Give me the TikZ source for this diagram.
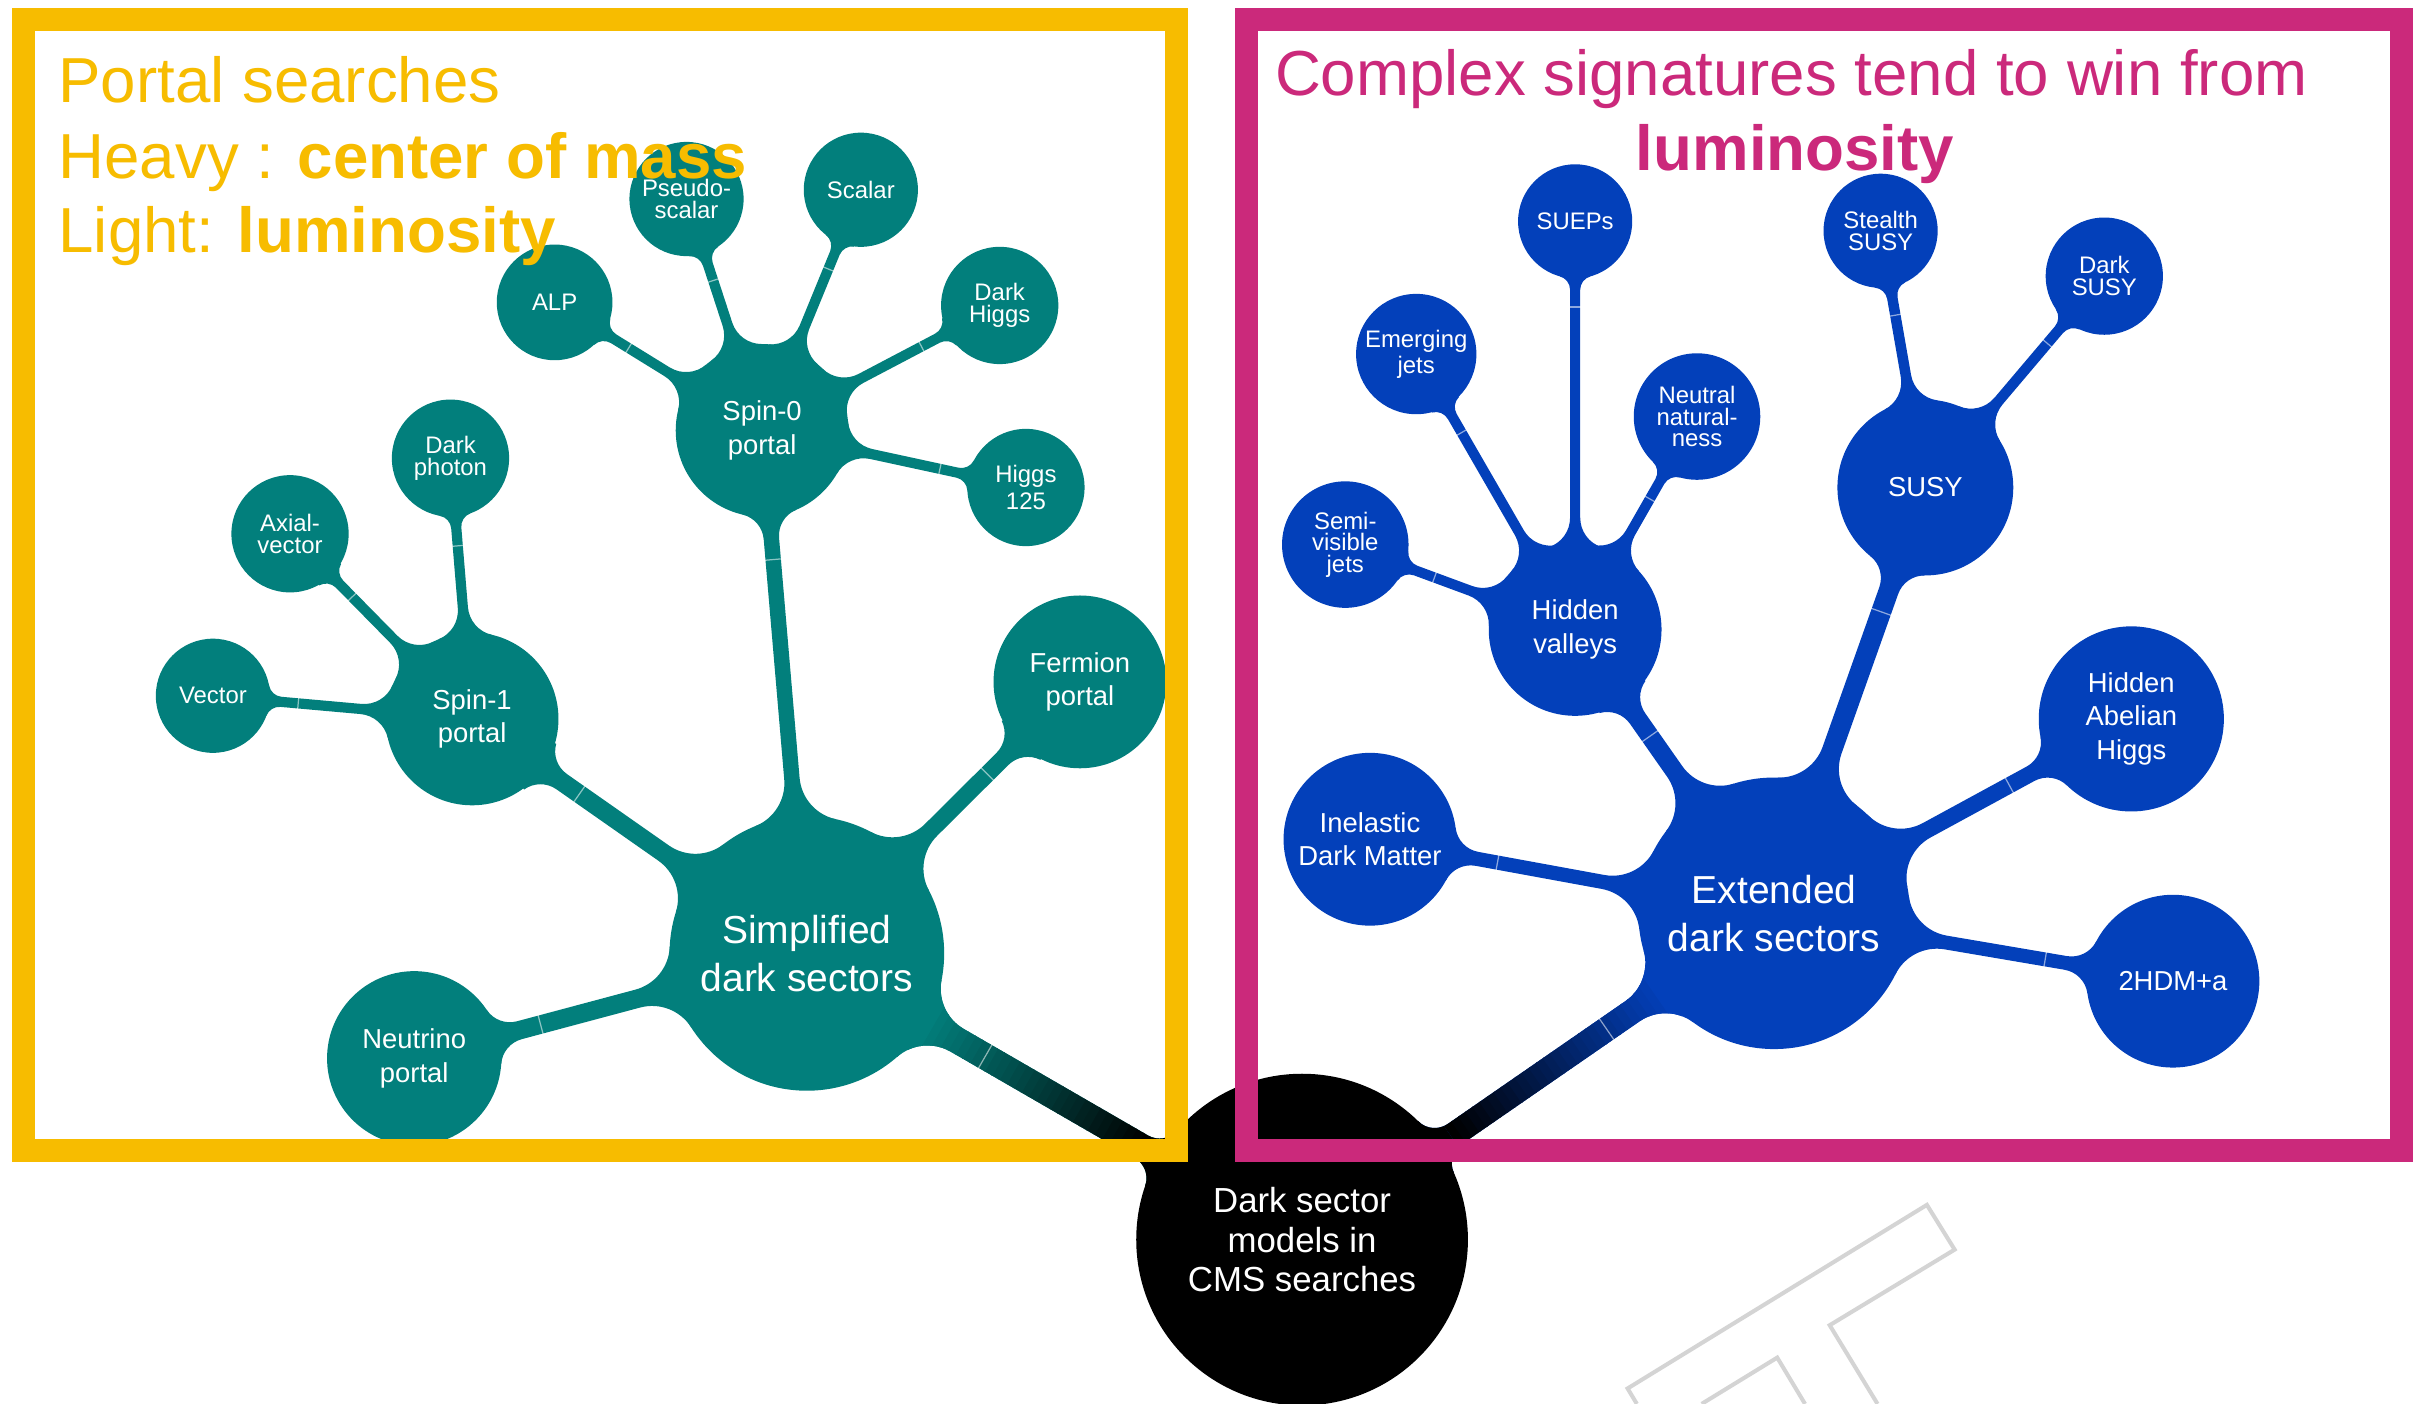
\documentclass[tikz,border=0pt]{standalone}
\usepackage{fontspec}
\setmainfont{Liberation Sans}
\usetikzlibrary{calc,backgrounds}

\definecolor{portalyellow}{HTML}{F7BC00}
\definecolor{complexpink}{HTML}{CB297B}
\definecolor{simpteal}{HTML}{027F7C}
\definecolor{extblue}{HTML}{0340BA}

\newcommand{\pxpt}{0.438941}
\newcommand{\tightleaf}{\fontsize{6.8}{6.15}\selectfont\lineskiplimit=-5pt\relax}
\tikzset{
  rad/.style={minimum size=2*#1*0.015427cm},
  bubble/.style={circle, inner sep=0pt, text=white, align=center},
  rootbub/.style={bubble, fill=black, font=\fontsize{9.9}{11.2}\selectfont},
  mainbub/.style={bubble, font=\fontsize{11.1}{13.6}\selectfont},
  midbub/.style={bubble, font=\fontsize{7.8}{9.6}\selectfont},
  leafbub/.style={bubble, font=\tightleaf},
  looseleaf/.style={bubble, font=\fontsize{6.8}{7.46}\selectfont},
  boxframe/.style={draw=#1, line width=6.58pt},
  heading/.style={inner sep=0pt, font=\fontsize{18.1}{21}\selectfont},
  tickmk/.style={white, opacity=0.55, line width=0.35pt},
  wmark/.style={draw=black!17, line width=1.15pt}
}

% geometry of one tapered branch, parent -> child, in the frame of the parent
\newcommand{\branchsetup}[7]{%
  \path let \p1=($(#2)-(#1)$) in \pgfextra{%
    \pgfmathsetmacro\brAng{atan2(\y1,\x1)}\global\let\brAng\brAng
    \pgfmathsetmacro\brLen{veclen(\x1,\y1)/\pxpt}\global\let\brLen\brLen};
  \def\brR{#3}\def\brr{#4}\def\brh{#5}\def\brp{#6}\def\brc{#7}%
  \pgfmathsetmacro\brxf{sqrt((\brR+\brp)^2-(\brh+\brp)^2)}%
  \pgfmathsetmacro\brtf{atan2(\brh+\brp,\brxf)}%
  \pgfmathsetmacro\brxc{sqrt((\brr+\brc)^2-(\brh+\brc)^2)}%
  \pgfmathsetmacro\brtc{atan2(\brh+\brc,\brxc)}%
  \pgfmathsetmacro\brtx{\brxf*\brR/(\brR+\brp)}%
  \pgfmathsetmacro\brty{(\brh+\brp)*\brR/(\brR+\brp)}%
  \pgfmathsetmacro\brnx{\brLen-\brxc}%
  \pgfmathsetmacro\brux{\brLen-\brxc*\brr/(\brr+\brc)}%
  \pgfmathsetmacro\bruy{(\brh+\brc)*\brr/(\brr+\brc)}%
  \pgfmathsetmacro\brsA{180+\brtf}%
  \pgfmathsetmacro\brsB{360-\brtc}%
  \pgfmathsetmacro\brsD{180-\brtf}%
  \pgfmathsetmacro\brtk{\brLen-1.5*\brr}%
}
\newcommand{\branchshape}{(0,0) -- (\brtx,\brty)
  arc[start angle=\brsA, end angle=270, radius=\brp] -- (\brnx,\brh)
  arc[start angle=270, end angle=\brsB, radius=\brc] -- (\brLen,0) -- (\brux,-\bruy)
  arc[start angle=\brtc, end angle=90, radius=\brc] -- (\brxf,-\brh)
  arc[start angle=90, end angle=\brsD, radius=\brp] -- cycle}

\newcommand{\branch}[8]{%
  \begin{pgfonlayer}{background}
    \branchsetup{#1}{#2}{#3}{#4}{#5}{#6}{#7}
    \begin{scope}[shift={(#1)}, rotate=\brAng]
      \fill[#8] \branchshape;
      \draw[tickmk] (\brtk,-\brh-0.6) -- (\brtk,\brh+0.6);
    \end{scope}
  \end{pgfonlayer}}

% same, fading from black at the parent to the colour of the child
\newcommand{\rootbranch}[8]{%
  \begin{pgfonlayer}{background}
    \branchsetup{#1}{#2}{#3}{#4}{#5}{#6}{#7}
    \begin{scope}[shift={(#1)}, rotate=\brAng]
      \begin{scope}
        \clip \branchshape;
        \fill[#8] (0,-150) rectangle (\brLen+100,150);
        \pgfmathsetmacro\gA{\brR+10}\pgfmathsetmacro\gB{\brLen-\brr}
        \fill[black] (-150,-150) rectangle (\gA,150);
        \foreach \i in {0,...,29}{
          \pgfmathsetmacro\stA{\gA+(\gB-\gA)*\i/30}
          \pgfmathsetmacro\stB{\gA+(\gB-\gA)*(\i+1)/30+1}
          \pgfmathtruncatemacro\mix{100*\i/29}
          \fill[#8!\mix!black] (\stA,-150) rectangle (\stB,150);
        }
      \end{scope}
      \draw[tickmk] (\brtk,-\brh-0.6) -- (\brtk,\brh+0.6);
    \end{scope}
  \end{pgfonlayer}}

\begin{document}
\begin{tikzpicture}[x=0.015427cm, y=-0.015427cm]
\useasboundingbox (0,0) rectangle (1568,910);
\begin{pgfonlayer}{background}
  \fill[white] (0,0) rectangle (1568,910);
\end{pgfonlayer}

% root
\node[rootbub, rad=107.5] (dsm) at (844,803.5) {Dark sector\\models in\\CMS searches};

% simplified dark sectors
\node[mainbub, fill=simpteal, rad=89] (simp) at (523,618) {Simplified\\dark sectors};
\node[midbub, fill=simpteal, rad=56] (spin0) at (494,279) {Spin-0\\portal};
\node[midbub, fill=simpteal, rad=56] (spin1) at (306,466) {Spin-1\\portal};
\node[midbub, fill=simpteal, rad=56] (ferm) at (700,442) {Fermion\\portal};
\node[midbub, fill=simpteal, rad=56.5] (neut) at (268.5,686) {Neutrino\\portal};
\node[leafbub, fill=simpteal, rad=37] (vec) at (138,451) {Vector};
\node[leafbub, fill=simpteal, rad=38] (axial) at (188,346) {Axial-\\vector};
\node[leafbub, fill=simpteal, rad=38] (dphoton) at (292,297) {Dark\\photon};
\node[leafbub, fill=simpteal, rad=37.5] (alp) at (359.5,196) {ALP};
\node[leafbub, fill=simpteal, rad=37] (pseudo) at (445,129) {Pseudo-\\scalar};
\node[leafbub, fill=simpteal, rad=37] (scalar) at (558,123) {Scalar};
\node[leafbub, fill=simpteal, rad=38] (dhiggs) at (648,198) {Dark\\Higgs};
\node[looseleaf, fill=simpteal, rad=38] (h125) at (665,316) {Higgs\\125};

% extended dark sectors
\node[mainbub, fill=extblue, rad=88] (ext) at (1150,592) {Extended\\dark sectors};
\node[midbub, fill=extblue, rad=56] (hv) at (1021,408) {Hidden\\valleys};
\node[midbub, fill=extblue, rad=57] (susy) at (1248,316) {SUSY};
\node[midbub, fill=extblue, rad=56] (idm) at (888,544) {Inelastic\\Dark Matter};
\node[midbub, fill=extblue, rad=60] (hah) at (1381.5,466) {Hidden\\Abelian\\Higgs};
\node[midbub, fill=extblue, rad=56] (thdma) at (1408.5,636) {2HDM+a};
\node[leafbub, fill=extblue, rad=41] (svj) at (872,353) {Semi-\\visible\\jets};
\node[looseleaf, fill=extblue, rad=39] (emj) at (918,229.5) {Emerging\\jets};
\node[leafbub, fill=extblue, rad=37] (sueps) at (1021,143.5) {SUEPs};
\node[leafbub, fill=extblue, rad=41] (nnat) at (1100,270) {Neutral\\natural-\\ness};
\node[leafbub, fill=extblue, rad=37] (stealth) at (1219,149.6) {Stealth\\SUSY};
\node[leafbub, fill=extblue, rad=38] (dsusy) at (1364,179) {Dark\\SUSY};

% branches
\rootbranch{dsm}{simp}{107.5}{89}{8.5}{15}{30}{simpteal}
\rootbranch{dsm}{ext}{107.5}{88}{8}{15}{30}{extblue}
\foreach \kid/\rr/\hw in {spin0/56/5, spin1/56/6, ferm/56/5.5, neut/56.5/6}
  {\branch{simp}{\kid}{89}{\rr}{\hw}{30}{18}{simpteal}}
\foreach \kid/\rr/\hw in {hv/56/6, susy/57/6.5, idm/56/4.6, hah/60/5.3, thdma/56/4.5}
  {\branch{ext}{\kid}{88}{\rr}{\hw}{30}{18}{extblue}}
\foreach \leaf/\rr in {alp/37.5, pseudo/37, scalar/37, dhiggs/38, h125/38}
  {\branch{spin0}{\leaf}{56}{\rr}{3.3}{20}{9}{simpteal}}
\foreach \leaf/\rr in {vec/37, axial/38, dphoton/38}
  {\branch{spin1}{\leaf}{56}{\rr}{3.3}{20}{9}{simpteal}}
\foreach \leaf/\rr in {svj/41, emj/39, sueps/37, nnat/41}
  {\branch{hv}{\leaf}{56}{\rr}{3.3}{20}{9}{extblue}}
\foreach \leaf/\rr in {stealth/37, dsusy/38}
  {\branch{susy}{\leaf}{57}{\rr}{3.4}{20}{9}{extblue}}

% frames and headings
\draw[boxframe=portalyellow] (15,12.5) rectangle (762.5,746);
\draw[boxframe=complexpink] (808,12.5) rectangle (1556.5,746);
\node[heading, text=portalyellow, anchor=base west] (ptitle) at (37.5,66.5) {Portal searches};
\node[heading, text=portalyellow, anchor=base west] (pheavy) at (37.5,115.4) {Heavy : \textbf{center of mass}};
\node[heading, text=portalyellow, anchor=base west] (plight) at (37.5,163.7) {Light: \textbf{luminosity}};
\node[heading, text=complexpink, anchor=base west] (ctitle) at (826,62) {Complex signatures tend to win from};
\node[heading, text=complexpink, anchor=base] (clumi) at (1163.5,110.5) {\textbf{luminosity}};

% watermark
\draw[wmark] (1061,910) -- (1055,900) -- (1249,781) -- (1267,810) -- (1186,859) -- (1217,910);
\draw[wmark] (1170,910) -- (1152,880) -- (1103,910);
\end{tikzpicture}
\end{document}
